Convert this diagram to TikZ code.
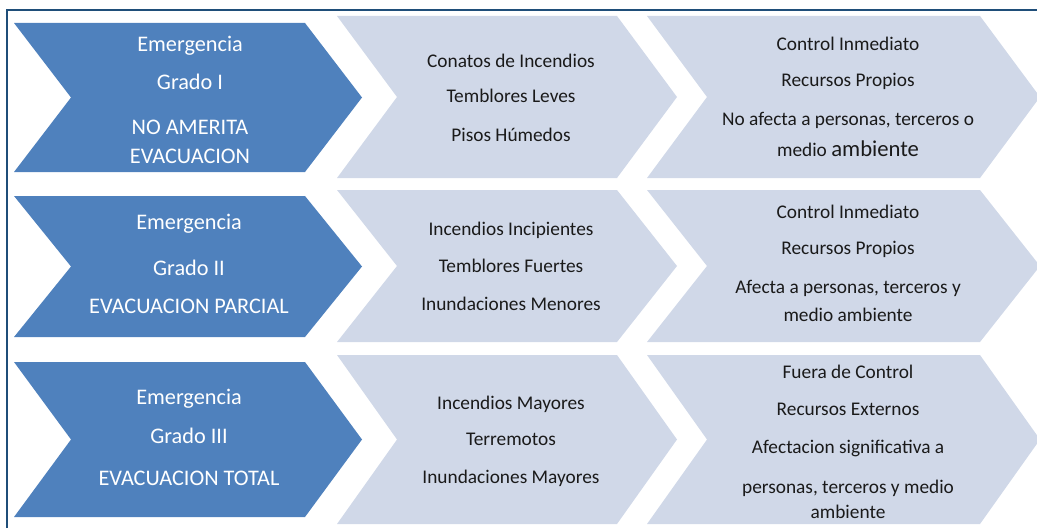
\documentclass[tikz,border=0pt]{standalone}
\usepackage{fontspec}
\setmainfont{Carlito}
\definecolor{chevblue}{HTML}{4F81BD}
\definecolor{chevgrey}{HTML}{D0D8E8}
\definecolor{framecol}{HTML}{1F4E79}
\definecolor{textgrey}{HTML}{1A1A1A}
\tikzset{
  bluechev/.style={fill=chevblue},
  greychev/.style={fill=chevgrey},
  gradetext/.style={text=white, align=center, font=\fontsize{16.7}{22}\selectfont},
  causetext/.style={text=textgrey, align=center, font=\fontsize{14.5}{20}\selectfont},
}
\begin{document}
\begin{tikzpicture}[x=0.75pt, y=-0.75pt]
\useasboundingbox (0,0) rectangle (1037,528);
% marco
\draw[framecol, line width=2pt] (7,528) -- (7,10) -- (1037,10);
% chevrones de cada fila
\foreach \bt/\bb/\gt/\gb in {23/172/16/178, 196/337/190/342, 362/517/355/524}{
  \pgfmathsetmacro\bm{(\bt+\bb)/2}
  \pgfmathsetmacro\gm{(\gt+\gb)/2}
  \fill[bluechev] (14,\bt) -- (305,\bt) -- (362,\bm) -- (305,\bb) -- (14,\bb) -- (71,\bm) -- cycle;
  \fill[greychev] (337,\gt) -- (617,\gt) -- (677,\gm) -- (617,\gb) -- (337,\gb) -- (397,\gm) -- cycle;
  \fill[greychev] (647,\gt) -- (980,\gt) -- (1040,\gm) -- (980,\gb) -- (647,\gb) -- (707,\gm) -- cycle;
}
% textos
\node[gradetext] (grado1) at (190,100) {Emergencia\\[6.5pt] Grado I\\[11.5pt] NO AMERITA\\ EVACUACION};
\node[gradetext] (grado2) at (189,264) {Emergencia\\[12.5pt] Grado II\\[6.5pt] EVACUACION PARCIAL};
\node[gradetext] (grado3) at (189,437) {Emergencia\\[7.25pt] Grado III\\[9.5pt] EVACUACION TOTAL};
\node[causetext] (causa1) at (511,98) {Conatos de Incendios\\[6.25pt] Temblores Leves\\[9.25pt] Pisos Húmedos};
\node[causetext] (causa2) at (511,266) {Incendios Incipientes\\[7.75pt] Temblores Fuertes\\[8.5pt] Inundaciones Menores};
\node[causetext] (causa3) at (511,441) {Incendios Mayores\\[7pt] Terremotos\\[8.5pt] Inundaciones Mayores};
\node[causetext] (efecto1) at (848,97) {Control Inmediato\\[7pt] Recursos Propios\\[9.25pt] No afecta a personas, terceros o\\[3.25pt] medio {\fontsize{17}{20}\selectfont ambiente}};
\node[causetext] (efecto2) at (848,263) {Control Inmediato\\[7pt] Recursos Propios\\[9.25pt] Afecta a personas, terceros y\\[1pt] medio ambiente};
\node[causetext] (efecto3) at (848,442) {Fuera de Control\\[7.75pt] Recursos Externos\\[8.5pt] Afectacion significativa a\\[10pt] personas, terceros y medio\\[-1.25pt] ambiente};
\end{tikzpicture}
\end{document}
